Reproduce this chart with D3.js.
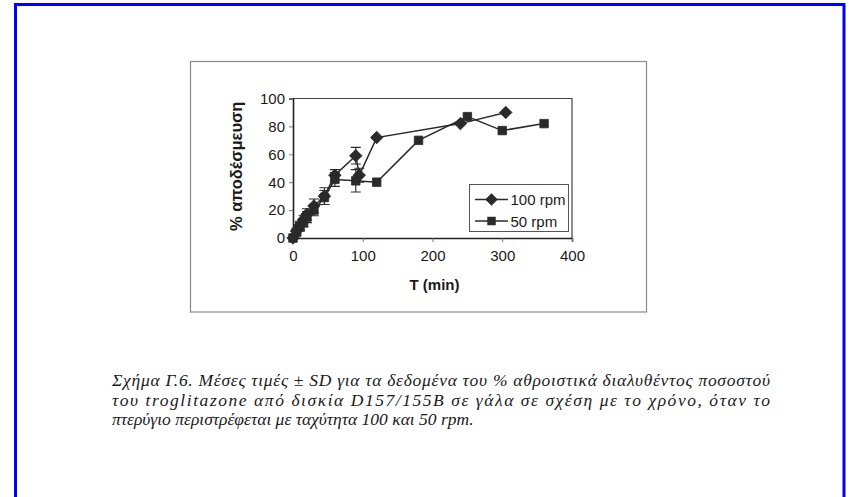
<!DOCTYPE html>
<html>
<head>
<meta charset="utf-8">
<script src="https://cdn.jsdelivr.net/npm/d3@7"></script>
<style>
  html, body { margin: 0; padding: 0; background: #fff; }
  svg { display: block; }
</style>
</head>
<body>
<svg id="fig" width="849" height="497"></svg>
<script>
// Release profile: mean % released vs time, with SD, for two paddle speeds
const time100 = [0, 5, 10, 15, 20, 30, 45, 60, 90, 95, 120, 240, 305];
const pct100  = [0, 5, 9, 13, 17, 23, 30, 45, 59, 45, 72, 82, 90];
const sd100   = [0, 2, 3, 3, 4, 5, 6, 4, 6, 5, 0, 0, 0];

const time50 = [0, 5, 10, 15, 20, 30, 45, 60, 90, 120, 180, 250, 300, 360];
const pct50  = [0, 4, 8, 11, 15, 20, 29, 42, 41, 40, 70, 87, 77, 82];
const sd50   = [0, 2, 3, 3, 4, 4, 5, 5, 8, 0, 0, 0, 0, 0];

const xTicks = [0, 100, 200, 300, 400];
const yTicks = [0, 20, 40, 60, 80, 100];
const seriesNames = ["100 rpm", "50 rpm"];

const captionLines = [
  "Σχήμα Γ.6. Μέσες τιμές ± SD για τα δεδομένα του % αθροιστικά διαλυθέντος ποσοστού",
  "του troglitazone από δισκία D157/155B σε γάλα σε σχέση με το χρόνο, όταν το",
  "πτερύγιο περιστρέφεται με ταχύτητα 100 και 50 rpm."
];
// justified lines get a fixed width; the last line keeps its natural width
const captionWidths = [658, 658, null];

const svg = d3.select("#fig");

// page frame
svg.append("rect")
  .attr("x", 15.5).attr("y", 4.5)
  .attr("width", 828.5).attr("height", 520)
  .attr("fill", "none").attr("stroke", "#0000ff").attr("stroke-width", 3);

// chart area frame
svg.append("rect")
  .attr("x", 190.5).attr("y", 61.5)
  .attr("width", 456).attr("height", 250.5)
  .attr("fill", "none").attr("stroke", "#8a8a8a").attr("stroke-width", 1.2);

const plot = { left: 293, right: 572, top: 98.5, bottom: 238 };

const x = d3.scaleLinear().domain([0, 400]).range([plot.left, plot.right]);
const y = d3.scaleLinear().domain([0, 100]).range([plot.bottom, plot.top]);

// plot area border (top and right)
svg.append("path")
  .attr("d", `M${plot.left},${plot.top}H${plot.right}V${plot.bottom}`)
  .attr("fill", "none").attr("stroke", "#444").attr("stroke-width", 1.2);

const font = "Arial, 'Liberation Sans', sans-serif";

// axes
const xAxis = d3.axisBottom(x).tickValues(xTicks).tickSize(4).tickPadding(8);
const yAxis = d3.axisLeft(y).tickValues(yTicks).tickSize(4).tickPadding(3);

const gx = svg.append("g").attr("transform", `translate(0,${plot.bottom})`).call(xAxis);
const gy = svg.append("g").attr("transform", `translate(${plot.left},0)`).call(yAxis);

[gx, gy].forEach(g => {
  g.select(".domain").attr("stroke", "#222").attr("stroke-width", 1.6);
  g.selectAll(".tick line").attr("stroke", "#777");
  g.selectAll(".tick text")
    .attr("fill", "#1a1a1a")
    .style("font-family", font)
    .style("font-size", "15px");
});
gy.selectAll(".tick text").attr("dx", "-1");

// axis titles
svg.append("text")
  .attr("x", (plot.left + plot.right) / 2 + 2)
  .attr("y", 290)
  .attr("text-anchor", "middle")
  .style("font-family", font).style("font-weight", "bold").style("font-size", "15px")
  .attr("fill", "#1a1a1a")
  .text("T (min)");

svg.append("text")
  .attr("transform", `translate(242,${(plot.top + plot.bottom) / 2 - 2}) rotate(-90)`)
  .attr("text-anchor", "middle")
  .style("font-family", font).style("font-weight", "bold").style("font-size", "16.5px")
  .attr("fill", "#1a1a1a")
  .text("% αποδέσμευση");

// series
const series = [
  { name: seriesNames[0], t: time100, v: pct100, sd: sd100, symbol: d3.symbolDiamond2, size: 100 },
  { name: seriesNames[1], t: time50, v: pct50, sd: sd50, symbol: d3.symbolSquare, size: 72 }
];

const ink = "#2a2a2a";
const line = d3.line().x(d => x(d[0])).y(d => y(d[1]));

series.forEach(s => {
  const pts = s.t.map((t, i) => [t, s.v[i], s.sd[i]]);
  const g = svg.append("g");

  // error bars
  pts.filter(p => p[2] > 0).forEach(p => {
    const cx = x(p[0]);
    g.append("path")
      .attr("d", `M${cx},${y(p[1] - p[2])}V${y(p[1] + p[2])}` +
                 `M${cx - 5},${y(p[1] - p[2])}H${cx + 5}` +
                 `M${cx - 5},${y(p[1] + p[2])}H${cx + 5}`)
      .attr("stroke", ink).attr("stroke-width", 1.1).attr("fill", "none");
  });

  g.append("path")
    .datum(pts)
    .attr("d", line)
    .attr("fill", "none").attr("stroke", ink).attr("stroke-width", 1.5);

  g.selectAll("path.mk")
    .data(pts)
    .join("path")
    .attr("class", "mk")
    .attr("transform", d => `translate(${x(d[0])},${y(d[1])})`)
    .attr("d", d3.symbol().type(s.symbol).size(s.size))
    .attr("fill", ink).attr("stroke", ink).attr("stroke-width", 0.8);
});

// legend
const leg = svg.append("g");
leg.append("rect")
  .attr("x", 469.5).attr("y", 184.5).attr("width", 99).attr("height", 47)
  .attr("fill", "#fff").attr("stroke", "#555").attr("stroke-width", 1);

series.forEach((s, i) => {
  const ly = 199.5 + i * 21.5;
  leg.append("line")
    .attr("x1", 475).attr("x2", 508).attr("y1", ly).attr("y2", ly)
    .attr("stroke", ink).attr("stroke-width", 1.5);
  leg.append("path")
    .attr("transform", `translate(491.5,${ly})`)
    .attr("d", d3.symbol().type(s.symbol).size(s.size))
    .attr("fill", ink);
  leg.append("text")
    .attr("x", 510.5).attr("y", ly + 5.5)
    .style("font-family", font).style("font-size", "15px")
    .attr("fill", "#1a1a1a")
    .text(s.name);
});

// caption
const cap = svg.append("g")
  .style("font-family", "'Liberation Serif', 'Times New Roman', serif")
  .style("font-style", "italic")
  .style("font-size", "17.5px")
  .attr("fill", "#1a1a1a");

captionLines.forEach((txt, i) => {
  const t = cap.append("text")
    .attr("x", 112)
    .attr("y", 386 + i * 19.5)
    .text(txt);
  if (captionWidths[i]) {
    t.attr("textLength", captionWidths[i]).attr("lengthAdjust", "spacing");
  }
});
</script>
</body>
</html>
